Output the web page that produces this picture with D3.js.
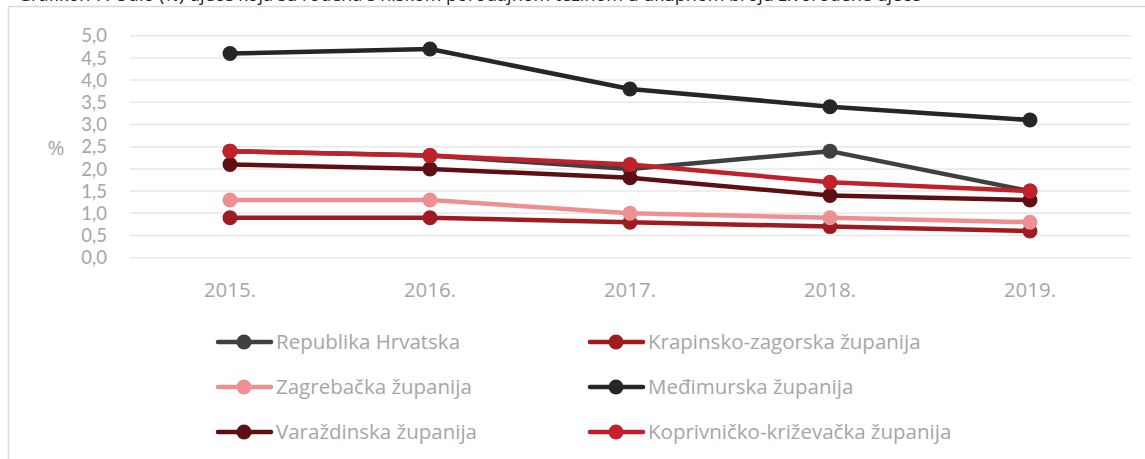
<!DOCTYPE html>
<html>
<head>
<meta charset="utf-8">
<script src="https://cdn.jsdelivr.net/npm/d3@7"></script>
<style>
  body { margin: 0; background: #fff; }
  svg { display: block; }
</style>
</head>
<body>
<div id="chart"></div>
<script>
// Chart data
var years = ['2015.', '2016.', '2017.', '2018.', '2019.'];
var seriesNames = [
  'Republika Hrvatska',
  'Krapinsko-zagorska županija',
  'Zagrebačka županija',
  'Međimurska županija',
  'Varaždinska županija',
  'Koprivničko-križevačka županija'
];
var republikaHrvatska = [2.4, 2.3, 2.0, 2.4, 1.5];
var krapinskoZagorska = [0.9, 0.9, 0.8, 0.7, 0.6];
var zagrebacka = [1.3, 1.3, 1.0, 0.9, 0.8];
var medimurska = [4.6, 4.7, 3.8, 3.4, 3.1];
var varazdinska = [2.1, 2.0, 1.8, 1.4, 1.3];
var koprivnickoKrizevacka = [2.4, 2.3, 2.1, 1.7, 1.5];
var yTicks = [0, 0.5, 1, 1.5, 2, 2.5, 3, 3.5, 4, 4.5, 5];
var colors = ['#404040', '#9e1b21', '#ee9092', '#262626', '#5e0f13', '#c0212a'];

var values = [republikaHrvatska, krapinskoZagorska, zagrebacka, medimurska, varazdinska, koprivnickoKrizevacka];
var series = seriesNames.map(function (name, i) {
  return { name: name, color: colors[i], values: values[i] };
});

var width = 1145;
var height = 459;
var font = '"Open Sans", sans-serif';
var fontSize = 20.5;
var grey = '#a6a6a6';

var svg = d3.select('#chart')
            .append('svg')
            .attr('width', width)
            .attr('height', height);

// Caption, clipped by the top edge as in the source
svg.append('text')
   .attr('x', 18)
   .attr('y', 0.5)
   .attr('font-family', font)
   .attr('font-size', 18)
   .attr('fill', '#222')
   .text('Grafikon 7. Udio (%) djece koja su rođena s niskom porođajnom težinom u ukupnom broju živorođene djece');

// Frame
svg.append('path')
   .attr('d', 'M8.5,' + height + 'V6.5H' + width)
   .attr('fill', 'none')
   .attr('stroke', '#d9d9d9')
   .attr('stroke-width', 1.5);

// Scales
var x = d3.scalePoint()
          .domain(years)
          .range([130, 1130])
          .padding(0.5);
var y = d3.scaleLinear()
          .domain([0, 5])
          .range([257.7, 35.7]);

// Grid lines
svg.append('g')
   .selectAll('line')
   .data(yTicks)
   .enter()
   .append('line')
   .attr('x1', 130)
   .attr('x2', 1131)
   .attr('y1', function (d) { return y(d); })
   .attr('y2', function (d) { return y(d); })
   .attr('stroke', '#e8e8e8')
   .attr('stroke-width', 1.5);

// Y axis labels (tight rows, so a font with a compact line box)
var fmt = function (d) { return d.toFixed(1).replace('.', ','); };
svg.append('g')
   .selectAll('text')
   .data(yTicks)
   .enter()
   .append('text')
   .attr('x', 107)
   .attr('y', function (d) { return y(d); })
   .attr('dy', '0.36em')
   .attr('text-anchor', 'end')
   .attr('font-family', 'Lato, sans-serif')
   .attr('font-size', 18.5)
   .attr('fill', grey)
   .text(fmt);

svg.append('text')
   .attr('x', 56)
   .attr('y', 148)
   .attr('dy', '0.36em')
   .attr('text-anchor', 'middle')
   .attr('font-family', font)
   .attr('font-size', fontSize)
   .attr('fill', grey)
   .text('%');

// X axis labels
svg.append('g')
   .selectAll('text')
   .data(years)
   .enter()
   .append('text')
   .attr('x', function (d) { return x(d); })
   .attr('y', 290)
   .attr('dy', '0.36em')
   .attr('text-anchor', 'middle')
   .attr('font-family', font)
   .attr('font-size', fontSize)
   .attr('fill', grey)
   .text(function (d) { return d; });

// Lines and markers
var line = d3.line()
             .x(function (d, i) { return x(years[i]); })
             .y(function (d) { return y(d); });

var g = svg.selectAll('.series')
           .data(series)
           .enter()
           .append('g')
           .attr('class', 'series');

g.append('path')
 .attr('d', function (d) { return line(d.values); })
 .attr('fill', 'none')
 .attr('stroke', function (d) { return d.color; })
 .attr('stroke-width', 4.5)
 .attr('stroke-linejoin', 'round')
 .attr('stroke-linecap', 'round');

g.selectAll('circle')
 .data(function (d) {
   return d.values.map(function (v, i) { return { v: v, i: i, color: d.color }; });
 })
 .enter()
 .append('circle')
 .attr('cx', function (d) { return x(years[d.i]); })
 .attr('cy', function (d) { return y(d.v); })
 .attr('r', 7.5)
 .attr('fill', function (d) { return d.color; });

// Legend
var legend = svg.selectAll('.legend')
                .data(series)
                .enter()
                .append('g')
                .attr('class', 'legend')
                .attr('transform', function (d, i) {
                  var col = i % 2;
                  var row = Math.floor(i / 2);
                  return 'translate(' + (col ? 590 : 218) + ',' + (342 + row * 45) + ')';
                });

legend.append('line')
      .attr('x1', 0)
      .attr('x2', 53)
      .attr('stroke', function (d) { return d.color; })
      .attr('stroke-width', 4.5)
      .attr('stroke-linecap', 'round');

legend.append('circle')
      .attr('cx', 26)
      .attr('r', 7.5)
      .attr('fill', function (d) { return d.color; });

legend.append('text')
      .attr('x', 58)
      .attr('dy', '0.36em')
      .attr('font-family', font)
      .attr('font-size', fontSize)
      .attr('fill', grey)
      .text(function (d) { return d.name; });
</script>
</body>
</html>
